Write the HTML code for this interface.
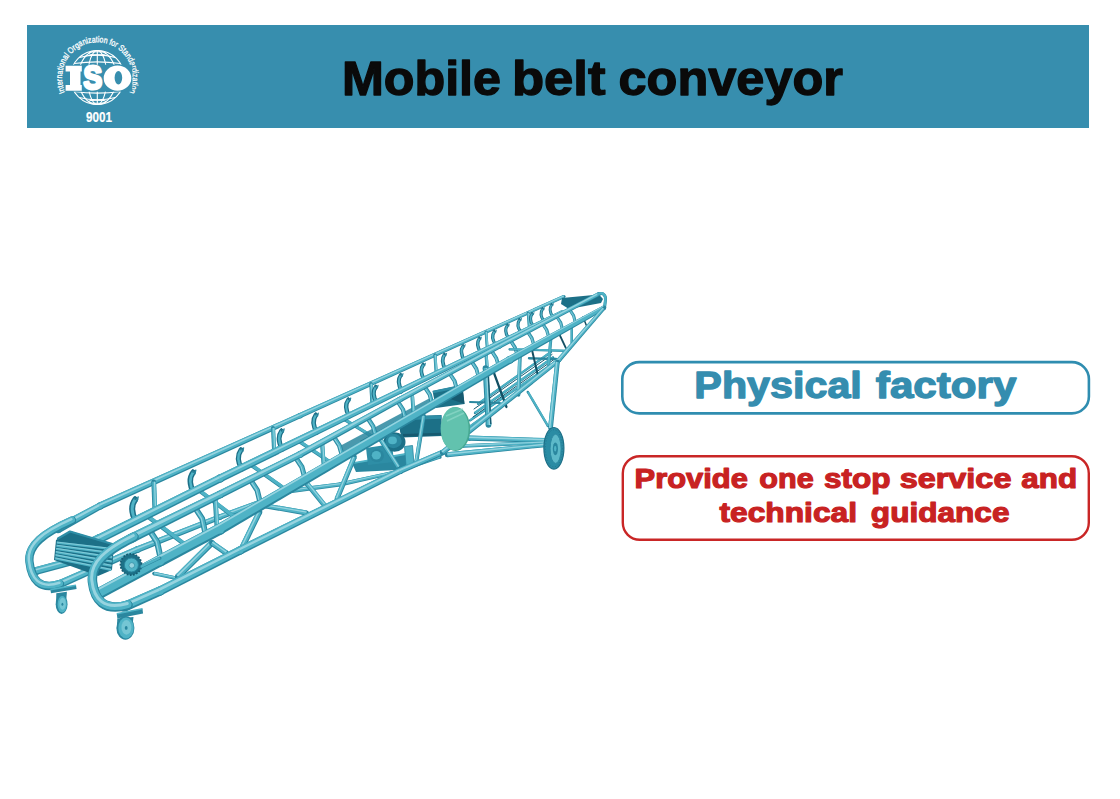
<!DOCTYPE html>
<html>
<head>
<meta charset="utf-8">
<title>Mobile belt conveyor</title>
<style>
html,body{margin:0;padding:0;background:#fff;}
body{width:1120px;height:799px;position:relative;overflow:hidden;font-family:"Liberation Sans",sans-serif;}
#hdr{position:absolute;left:27px;top:25px;width:1062px;height:103px;background:#378EAE;}
#stage{position:absolute;left:0;top:0;width:1120px;height:799px;}
text{font-family:"Liberation Sans",sans-serif;}
</style>
</head>
<body>
<div id="hdr"></div>
<svg id="stage" width="1120" height="799" viewBox="0 0 1120 799">
<!-- TITLE -->
<text x="341.92" y="94.6" font-size="48.2" font-weight="bold" fill="#0a0a0a" stroke="#0a0a0a" stroke-width="1.3" stroke-linejoin="round" textLength="159.11" lengthAdjust="spacingAndGlyphs">Mobile</text>
<text x="511.9" y="94.6" font-size="48.2" font-weight="bold" fill="#0a0a0a" stroke="#0a0a0a" stroke-width="1.3" stroke-linejoin="round" textLength="93.59" lengthAdjust="spacingAndGlyphs">belt</text>
<text x="618.49" y="94.6" font-size="48.2" font-weight="bold" fill="#0a0a0a" stroke="#0a0a0a" stroke-width="1.3" stroke-linejoin="round" textLength="224.51" lengthAdjust="spacingAndGlyphs">conveyor</text>

<!-- BOXES -->
<rect x="622.3" y="362.1" width="466.6" height="51.3" rx="17" ry="17" fill="#fff" stroke="#2F8DB0" stroke-width="2.6"/>
<text x="694.38" y="397.8" font-size="37.7" font-weight="bold" fill="#358DAF" stroke="#358DAF" stroke-width="1.35" stroke-linejoin="round" textLength="167.42" lengthAdjust="spacingAndGlyphs">Physical</text>
<text x="875.86" y="397.8" font-size="37.7" font-weight="bold" fill="#358DAF" stroke="#358DAF" stroke-width="1.35" stroke-linejoin="round" textLength="140.60" lengthAdjust="spacingAndGlyphs">factory</text>

<rect x="622.8" y="456.2" width="466" height="83.6" rx="17" ry="17" fill="#fff" stroke="#C92626" stroke-width="2.4"/>
<text x="634.54" y="487.9" font-size="27.6" font-weight="bold" fill="#C82222" stroke="#C82222" stroke-width="1.15" stroke-linejoin="round" textLength="113.32" lengthAdjust="spacingAndGlyphs">Provide</text>
<text x="759.33" y="487.9" font-size="27.6" font-weight="bold" fill="#C82222" stroke="#C82222" stroke-width="1.15" stroke-linejoin="round" textLength="54.44" lengthAdjust="spacingAndGlyphs">one</text>
<text x="824.05" y="487.9" font-size="27.6" font-weight="bold" fill="#C82222" stroke="#C82222" stroke-width="1.15" stroke-linejoin="round" textLength="66.57" lengthAdjust="spacingAndGlyphs">stop</text>
<text x="899.66" y="487.9" font-size="27.6" font-weight="bold" fill="#C82222" stroke="#C82222" stroke-width="1.15" stroke-linejoin="round" textLength="111.77" lengthAdjust="spacingAndGlyphs">service</text>
<text x="1021.29" y="487.9" font-size="27.6" font-weight="bold" fill="#C82222" stroke="#C82222" stroke-width="1.15" stroke-linejoin="round" textLength="55.86" lengthAdjust="spacingAndGlyphs">and</text>
<text x="719.52" y="521.7" font-size="27.6" font-weight="bold" fill="#C82222" stroke="#C82222" stroke-width="1.15" stroke-linejoin="round" textLength="137.49" lengthAdjust="spacingAndGlyphs">technical</text>
<text x="870.88" y="521.7" font-size="27.6" font-weight="bold" fill="#C82222" stroke="#C82222" stroke-width="1.15" stroke-linejoin="round" textLength="138.62" lengthAdjust="spacingAndGlyphs">guidance</text>

<!-- LOGO -->
<g id="logo">
<g fill="none" stroke="#fff" stroke-width="1.1"><circle cx="97.3" cy="77.5" r="27"/><ellipse cx="97.3" cy="77.5" rx="9.5" ry="27"/><ellipse cx="97.3" cy="77.5" rx="19" ry="27"/><line x1="97.3" y1="50.5" x2="97.3" y2="104.5"/><path d="M79.2,57.5 Q97.3,52.7 115.4,57.5"/><path d="M74.2,63.5 Q97.3,60.3 120.4,63.5"/><path d="M74.2,91.5 Q97.3,94.7 120.4,91.5"/><path d="M79.2,97.5 Q97.3,102.3 115.4,97.5"/><ellipse cx="97.3" cy="53.3" rx="8.5" ry="1.6"/><ellipse cx="97.3" cy="101.7" rx="8.5" ry="1.6"/></g>
<path id="arc" d="M65.27,92.10 A35.2,35.2 0 1 1 129.46,91.82" fill="none"/>
<text font-size="8.7" fill="#fff" stroke="#fff" stroke-width="0.3" textLength="140.4" lengthAdjust="spacingAndGlyphs"><textPath href="#arc" textLength="140.4" lengthAdjust="spacingAndGlyphs">International Organization for Standardization</textPath></text>
<rect x="64.6" y="64.7" width="67.7" height="27" fill="#378EAE"/>
<path d="M65.6,65.7H81.8V71.4H80.5V85H81.8V90.7H65.6V85H70V71.4H65.6Z" fill="#fff"/><text x="83.4" y="89" font-family="Liberation Serif" font-weight="bold" font-size="33.2" fill="#fff" stroke="#fff" stroke-width="3.1" stroke-linejoin="round" textLength="18.6" lengthAdjust="spacingAndGlyphs">S</text><path fill-rule="evenodd" fill="#fff" d="M103.7,78.2a13.8,12.6 0 1 0 27.6,0a13.8,12.6 0 1 0 -27.6,0Z M114.6,77.8a3.8,6.7 0 1 0 7.6,0a3.8,6.7 0 1 0 -7.6,0Z"/>
<text x="86" y="122" font-size="14.4" font-weight="bold" fill="#fff" stroke="#fff" stroke-width="0.2" textLength="26" lengthAdjust="spacingAndGlyphs">9001</text>
</g>

<!-- CONVEYOR -->
<defs><filter id="soft" x="-2%" y="-2%" width="104%" height="104%"><feGaussianBlur stdDeviation="0.45"/></filter></defs>
<g id="conv" stroke-linejoin="round" filter="url(#soft)">
<path d="M34.97,567.14 L90.97,552.14 L93.03,559.86 L37.03,574.86Z" fill="#2A879F"/>
<circle cx="36.00" cy="571.00" r="4.00" fill="#2A879F"/>
<circle cx="92.00" cy="556.00" r="4.00" fill="#2A879F"/>
<path d="M34.97,567.14 L90.97,552.14 L92.66,558.47 L36.66,573.47Z" fill="#4FB3C6"/>
<path d="M35.44,568.91 L91.44,553.91 L91.86,555.46 L35.86,570.46Z" fill="#97D4E0"/>
<path d="M56.29,581.16 L136.20,546.58 L138.80,552.42 L59.71,588.84Z" fill="#2A879F"/>
<circle cx="58.00" cy="585.00" r="4.20" fill="#2A879F"/>
<circle cx="137.50" cy="549.50" r="3.20" fill="#2A879F"/>
<path d="M136.33,546.52 L219.01,514.49 L220.99,519.51 L138.67,552.48Z" fill="#2A879F"/>
<circle cx="137.50" cy="549.50" r="3.20" fill="#2A879F"/>
<circle cx="220.00" cy="517.00" r="2.70" fill="#2A879F"/>
<path d="M219.06,514.47 L289.20,488.84 L290.80,493.16 L220.94,519.53Z" fill="#2A879F"/>
<circle cx="220.00" cy="517.00" r="2.70" fill="#2A879F"/>
<circle cx="290.00" cy="491.00" r="2.30" fill="#2A879F"/>
<path d="M289.70,488.72 L339.74,482.52 L340.26,486.48 L290.30,493.28Z" fill="#2A879F"/>
<circle cx="290.00" cy="491.00" r="2.30" fill="#2A879F"/>
<circle cx="340.00" cy="484.50" r="2.00" fill="#2A879F"/>
<path d="M339.57,482.55 L391.61,471.24 L392.39,474.76 L340.43,486.45Z" fill="#2A879F"/>
<circle cx="340.00" cy="484.50" r="2.00" fill="#2A879F"/>
<circle cx="392.00" cy="473.00" r="1.80" fill="#2A879F"/>
<path d="M391.43,471.29 L439.46,455.39 L440.54,458.61 L392.57,474.71Z" fill="#2A879F"/>
<circle cx="392.00" cy="473.00" r="1.80" fill="#2A879F"/>
<circle cx="440.00" cy="457.00" r="1.70" fill="#2A879F"/>
<path d="M56.29,581.16 L136.20,546.58 L138.34,551.37 L59.10,587.45Z" fill="#4FB3C6"/>
<path d="M136.33,546.52 L219.01,514.49 L220.63,518.61 L138.25,551.41Z" fill="#4FB3C6"/>
<circle cx="137.50" cy="549.50" r="2.56" fill="#4FB3C6"/>
<path d="M219.06,514.47 L289.20,488.84 L290.51,492.38 L220.60,518.62Z" fill="#4FB3C6"/>
<circle cx="220.00" cy="517.00" r="2.16" fill="#4FB3C6"/>
<path d="M289.70,488.72 L339.74,482.52 L340.17,485.77 L290.19,492.46Z" fill="#4FB3C6"/>
<circle cx="290.00" cy="491.00" r="1.84" fill="#4FB3C6"/>
<path d="M339.57,482.55 L391.61,471.24 L392.25,474.12 L340.28,485.75Z" fill="#4FB3C6"/>
<circle cx="340.00" cy="484.50" r="1.60" fill="#4FB3C6"/>
<path d="M391.43,471.29 L439.46,455.39 L440.34,458.03 L392.36,474.09Z" fill="#4FB3C6"/>
<circle cx="392.00" cy="473.00" r="1.44" fill="#4FB3C6"/>
<path d="M56.99,582.74 L136.73,547.78 L137.38,549.24 L57.85,584.65Z" fill="#97D4E0"/>
<path d="M136.81,547.74 L219.42,515.52 L219.91,516.77 L137.39,549.23Z" fill="#97D4E0"/>
<path d="M219.45,515.51 L289.53,489.73 L289.93,490.81 L219.92,516.77Z" fill="#97D4E0"/>
<path d="M289.83,489.65 L339.85,483.33 L339.98,484.32 L289.97,490.79Z" fill="#97D4E0"/>
<path d="M339.75,483.35 L391.77,471.96 L391.97,472.84 L339.96,484.32Z" fill="#97D4E0"/>
<path d="M391.66,471.99 L439.68,456.05 L439.95,456.85 L391.95,472.85Z" fill="#97D4E0"/>
<path d="M55.98,525.32 L98.32,502.93 L101.68,509.07 L60.02,532.68Z" fill="#2A879F"/>
<circle cx="58.00" cy="529.00" r="4.20" fill="#2A879F"/>
<circle cx="100.00" cy="506.00" r="3.50" fill="#2A879F"/>
<path d="M98.56,502.81 L298.93,413.33 L301.07,418.07 L101.44,509.19Z" fill="#2A879F"/>
<circle cx="100.00" cy="506.00" r="3.50" fill="#2A879F"/>
<circle cx="300.00" cy="415.70" r="2.60" fill="#2A879F"/>
<path d="M298.93,413.33 L563.34,295.04 L564.66,297.96 L301.07,418.07Z" fill="#2A879F"/>
<circle cx="300.00" cy="415.70" r="2.60" fill="#2A879F"/>
<circle cx="564.00" cy="296.50" r="1.60" fill="#2A879F"/>
<path d="M55.98,525.32 L98.32,502.93 L101.08,507.96 L59.29,531.36Z" fill="#4FB3C6"/>
<path d="M98.56,502.81 L298.93,413.33 L300.68,417.22 L100.92,508.04Z" fill="#4FB3C6"/>
<circle cx="100.00" cy="506.00" r="2.80" fill="#4FB3C6"/>
<path d="M298.93,413.33 L563.34,295.04 L564.42,297.43 L300.68,417.22Z" fill="#4FB3C6"/>
<circle cx="300.00" cy="415.70" r="2.08" fill="#4FB3C6"/>
<path d="M56.71,526.64 L98.92,504.04 L99.93,505.88 L57.92,528.85Z" fill="#97D4E0"/>
<path d="M99.08,503.96 L299.32,414.18 L299.96,415.61 L99.94,505.87Z" fill="#97D4E0"/>
<path d="M299.32,414.18 L563.58,295.57 L563.97,296.44 L299.96,415.61Z" fill="#97D4E0"/>
<path d="M156.05,481.67 L157.25,512.08 L152.55,512.26 L151.35,481.86Z" fill="#2A879F"/>
<circle cx="153.70" cy="481.77" r="2.35" fill="#2A879F"/>
<circle cx="154.90" cy="512.17" r="2.35" fill="#2A879F"/>
<path d="M156.05,481.67 L157.25,512.08 L153.40,512.23 L152.20,481.82Z" fill="#4FB3C6"/>
<path d="M155.09,481.71 L156.29,512.12 L155.11,512.16 L153.91,481.76Z" fill="#97D4E0"/>
<path d="M275.01,427.83 L276.21,453.58 L272.19,453.77 L270.99,428.02Z" fill="#2A879F"/>
<circle cx="273.00" cy="427.93" r="2.02" fill="#2A879F"/>
<circle cx="274.20" cy="453.68" r="2.02" fill="#2A879F"/>
<path d="M275.01,427.83 L276.21,453.58 L272.91,453.74 L271.71,427.99Z" fill="#4FB3C6"/>
<path d="M274.19,427.87 L275.39,453.62 L274.38,453.67 L273.18,427.92Z" fill="#97D4E0"/>
<path d="M372.74,383.60 L373.94,405.53 L370.46,405.72 L369.26,383.79Z" fill="#2A879F"/>
<circle cx="371.00" cy="383.70" r="1.74" fill="#2A879F"/>
<circle cx="372.20" cy="405.63" r="1.74" fill="#2A879F"/>
<path d="M372.74,383.60 L373.94,405.53 L371.09,405.69 L369.89,383.76Z" fill="#4FB3C6"/>
<path d="M372.03,383.64 L373.23,405.57 L372.36,405.62 L371.16,383.69Z" fill="#97D4E0"/>
<path d="M436.56,354.72 L437.76,374.15 L434.64,374.35 L433.44,354.91Z" fill="#2A879F"/>
<circle cx="435.00" cy="354.81" r="1.56" fill="#2A879F"/>
<circle cx="436.20" cy="374.25" r="1.56" fill="#2A879F"/>
<path d="M436.56,354.72 L437.76,374.15 L435.20,374.31 L434.00,354.88Z" fill="#4FB3C6"/>
<path d="M435.92,354.76 L437.12,374.19 L436.34,374.24 L435.14,354.81Z" fill="#97D4E0"/>
<path d="M487.42,331.70 L488.62,349.15 L485.78,349.34 L484.58,331.90Z" fill="#2A879F"/>
<circle cx="486.00" cy="331.80" r="1.42" fill="#2A879F"/>
<circle cx="487.20" cy="349.24" r="1.42" fill="#2A879F"/>
<path d="M487.42,331.70 L488.62,349.15 L486.29,349.31 L485.09,331.86Z" fill="#4FB3C6"/>
<path d="M486.84,331.74 L488.04,349.19 L487.33,349.24 L486.13,331.79Z" fill="#97D4E0"/>
<path d="M529.30,312.75 L530.50,328.55 L527.90,328.75 L526.70,312.94Z" fill="#2A879F"/>
<circle cx="528.00" cy="312.84" r="1.30" fill="#2A879F"/>
<circle cx="529.20" cy="328.65" r="1.30" fill="#2A879F"/>
<path d="M529.30,312.75 L530.50,328.55 L528.37,328.71 L527.17,312.91Z" fill="#4FB3C6"/>
<path d="M528.77,312.79 L529.97,328.59 L529.32,328.64 L528.12,312.83Z" fill="#97D4E0"/>
<path d="M135.8,521.1 C131.7,513.5 130.7,505.5 135.2,499.4" fill="none" stroke="#1D6F87" stroke-width="5.9" stroke-linecap="round"/>
<path d="M135.8,521.1 C131.7,513.5 130.7,505.5 135.2,499.4" fill="none" stroke="#4FB3C6" stroke-width="2.9" stroke-linecap="round"/>
<path d="M135.2,499.4 L135.0,496.7" fill="none" stroke="#1D6F87" stroke-width="1.5" stroke-linecap="round"/>
<path d="M137.1,500.9 L138.1,497.1" fill="none" stroke="#2A879F" stroke-width="1.5" stroke-linecap="round"/>
<path d="M193.8,492.7 C189.8,485.5 189.0,478.0 193.1,472.3" fill="none" stroke="#1D6F87" stroke-width="5.5" stroke-linecap="round"/>
<path d="M193.8,492.7 C189.8,485.5 189.0,478.0 193.1,472.3" fill="none" stroke="#4FB3C6" stroke-width="2.7" stroke-linecap="round"/>
<path d="M193.1,472.3 L192.9,469.8" fill="none" stroke="#1D6F87" stroke-width="1.4" stroke-linecap="round"/>
<path d="M194.9,473.8 L195.8,470.2" fill="none" stroke="#2A879F" stroke-width="1.4" stroke-linecap="round"/>
<path d="M241.8,469.1 C238.0,462.4 237.1,455.3 241.0,449.9" fill="none" stroke="#1D6F87" stroke-width="5.1" stroke-linecap="round"/>
<path d="M241.8,469.1 C238.0,462.4 237.1,455.3 241.0,449.9" fill="none" stroke="#4FB3C6" stroke-width="2.5" stroke-linecap="round"/>
<path d="M241.0,449.9 L240.8,447.6" fill="none" stroke="#1D6F87" stroke-width="1.3" stroke-linecap="round"/>
<path d="M242.8,451.3 L243.6,447.9" fill="none" stroke="#2A879F" stroke-width="1.3" stroke-linecap="round"/>
<path d="M282.4,449.2 C278.7,442.8 277.9,436.1 281.6,431.0" fill="none" stroke="#1D6F87" stroke-width="4.8" stroke-linecap="round"/>
<path d="M282.4,449.2 C278.7,442.8 277.9,436.1 281.6,431.0" fill="none" stroke="#4FB3C6" stroke-width="2.4" stroke-linecap="round"/>
<path d="M281.6,431.0 L281.4,428.7" fill="none" stroke="#1D6F87" stroke-width="1.3" stroke-linecap="round"/>
<path d="M283.3,432.2 L284.1,429.0" fill="none" stroke="#2A879F" stroke-width="1.3" stroke-linecap="round"/>
<path d="M316.8,432.4 C313.2,426.2 312.4,419.8 315.9,414.9" fill="none" stroke="#1D6F87" stroke-width="4.6" stroke-linecap="round"/>
<path d="M316.8,432.4 C313.2,426.2 312.4,419.8 315.9,414.9" fill="none" stroke="#4FB3C6" stroke-width="2.2" stroke-linecap="round"/>
<path d="M315.9,414.9 L315.8,412.8" fill="none" stroke="#1D6F87" stroke-width="1.2" stroke-linecap="round"/>
<path d="M317.6,416.1 L318.3,413.1" fill="none" stroke="#2A879F" stroke-width="1.2" stroke-linecap="round"/>
<path d="M349.3,416.4 C345.8,410.6 345.0,404.4 348.4,399.7" fill="none" stroke="#1D6F87" stroke-width="4.4" stroke-linecap="round"/>
<path d="M349.3,416.4 C345.8,410.6 345.0,404.4 348.4,399.7" fill="none" stroke="#4FB3C6" stroke-width="2.1" stroke-linecap="round"/>
<path d="M348.4,399.7 L348.2,397.7" fill="none" stroke="#1D6F87" stroke-width="1.2" stroke-linecap="round"/>
<path d="M350.0,400.9 L350.7,398.0" fill="none" stroke="#2A879F" stroke-width="1.2" stroke-linecap="round"/>
<path d="M376.8,402.9 C373.3,397.3 372.6,391.4 375.8,386.9" fill="none" stroke="#1D6F87" stroke-width="4.2" stroke-linecap="round"/>
<path d="M376.8,402.9 C373.3,397.3 372.6,391.4 375.8,386.9" fill="none" stroke="#4FB3C6" stroke-width="2.0" stroke-linecap="round"/>
<path d="M375.8,386.9 L375.7,385.0" fill="none" stroke="#1D6F87" stroke-width="1.1" stroke-linecap="round"/>
<path d="M377.4,388.0 L378.1,385.2" fill="none" stroke="#2A879F" stroke-width="1.1" stroke-linecap="round"/>
<path d="M401.8,390.7 C398.4,385.3 397.7,379.6 400.8,375.2" fill="none" stroke="#1D6F87" stroke-width="4.0" stroke-linecap="round"/>
<path d="M401.8,390.7 C398.4,385.3 397.7,379.6 400.8,375.2" fill="none" stroke="#4FB3C6" stroke-width="1.9" stroke-linecap="round"/>
<path d="M400.8,375.2 L400.7,373.4" fill="none" stroke="#1D6F87" stroke-width="1.1" stroke-linecap="round"/>
<path d="M402.3,376.3 L403.0,373.6" fill="none" stroke="#2A879F" stroke-width="1.1" stroke-linecap="round"/>
<path d="M424.3,379.6 C421.0,374.4 420.3,368.9 423.3,364.7" fill="none" stroke="#1D6F87" stroke-width="3.8" stroke-linecap="round"/>
<path d="M424.3,379.6 C421.0,374.4 420.3,368.9 423.3,364.7" fill="none" stroke="#4FB3C6" stroke-width="1.8" stroke-linecap="round"/>
<path d="M423.3,364.7 L423.1,362.9" fill="none" stroke="#1D6F87" stroke-width="1.0" stroke-linecap="round"/>
<path d="M424.8,365.8 L425.4,363.2" fill="none" stroke="#2A879F" stroke-width="1.0" stroke-linecap="round"/>
<path d="M445.6,369.2 C442.3,364.2 441.7,358.8 444.5,354.8" fill="none" stroke="#1D6F87" stroke-width="3.7" stroke-linecap="round"/>
<path d="M445.6,369.2 C442.3,364.2 441.7,358.8 444.5,354.8" fill="none" stroke="#4FB3C6" stroke-width="1.8" stroke-linecap="round"/>
<path d="M444.5,354.8 L444.4,353.1" fill="none" stroke="#1D6F87" stroke-width="1.0" stroke-linecap="round"/>
<path d="M445.9,355.8 L446.6,353.3" fill="none" stroke="#2A879F" stroke-width="1.0" stroke-linecap="round"/>
<path d="M464.3,360.0 C461.1,355.1 460.5,350.0 463.2,346.1" fill="none" stroke="#1D6F87" stroke-width="3.5" stroke-linecap="round"/>
<path d="M464.3,360.0 C461.1,355.1 460.5,350.0 463.2,346.1" fill="none" stroke="#4FB3C6" stroke-width="1.7" stroke-linecap="round"/>
<path d="M463.2,346.1 L463.1,344.4" fill="none" stroke="#1D6F87" stroke-width="1.0" stroke-linecap="round"/>
<path d="M464.6,347.0 L465.2,344.6" fill="none" stroke="#2A879F" stroke-width="1.0" stroke-linecap="round"/>
<path d="M480.6,352.1 C477.4,347.3 476.8,342.3 479.4,338.5" fill="none" stroke="#1D6F87" stroke-width="3.4" stroke-linecap="round"/>
<path d="M480.6,352.1 C477.4,347.3 476.8,342.3 479.4,338.5" fill="none" stroke="#4FB3C6" stroke-width="1.6" stroke-linecap="round"/>
<path d="M479.4,338.5 L479.3,336.9" fill="none" stroke="#1D6F87" stroke-width="0.9" stroke-linecap="round"/>
<path d="M480.8,339.4 L481.4,337.1" fill="none" stroke="#2A879F" stroke-width="0.9" stroke-linecap="round"/>
<path d="M495.6,344.7 C492.4,340.1 491.8,335.2 494.4,331.5" fill="none" stroke="#1D6F87" stroke-width="3.3" stroke-linecap="round"/>
<path d="M495.6,344.7 C492.4,340.1 491.8,335.2 494.4,331.5" fill="none" stroke="#4FB3C6" stroke-width="1.6" stroke-linecap="round"/>
<path d="M494.4,331.5 L494.3,329.9" fill="none" stroke="#1D6F87" stroke-width="0.9" stroke-linecap="round"/>
<path d="M495.8,332.4 L496.4,330.1" fill="none" stroke="#2A879F" stroke-width="0.9" stroke-linecap="round"/>
<path d="M508.6,338.3 C505.4,333.8 504.9,329.0 507.4,325.4" fill="none" stroke="#1D6F87" stroke-width="3.2" stroke-linecap="round"/>
<path d="M508.6,338.3 C505.4,333.8 504.9,329.0 507.4,325.4" fill="none" stroke="#4FB3C6" stroke-width="1.5" stroke-linecap="round"/>
<path d="M507.4,325.4 L507.3,323.9" fill="none" stroke="#1D6F87" stroke-width="0.9" stroke-linecap="round"/>
<path d="M508.8,326.3 L509.3,324.1" fill="none" stroke="#2A879F" stroke-width="0.9" stroke-linecap="round"/>
<path d="M520.8,332.3 C517.7,327.9 517.2,323.2 519.6,319.7" fill="none" stroke="#1D6F87" stroke-width="3.1" stroke-linecap="round"/>
<path d="M520.8,332.3 C517.7,327.9 517.2,323.2 519.6,319.7" fill="none" stroke="#4FB3C6" stroke-width="1.5" stroke-linecap="round"/>
<path d="M519.6,319.7 L519.5,318.2" fill="none" stroke="#1D6F87" stroke-width="0.9" stroke-linecap="round"/>
<path d="M521.0,320.5 L521.5,318.4" fill="none" stroke="#2A879F" stroke-width="0.9" stroke-linecap="round"/>
<path d="M533.3,326.2 C530.3,321.9 529.7,317.3 532.1,313.8" fill="none" stroke="#1D6F87" stroke-width="3.1" stroke-linecap="round"/>
<path d="M533.3,326.2 C530.3,321.9 529.7,317.3 532.1,313.8" fill="none" stroke="#4FB3C6" stroke-width="1.4" stroke-linecap="round"/>
<path d="M532.1,313.8 L532.0,312.4" fill="none" stroke="#1D6F87" stroke-width="0.9" stroke-linecap="round"/>
<path d="M533.4,314.7 L534.0,312.6" fill="none" stroke="#2A879F" stroke-width="0.9" stroke-linecap="round"/>
<path d="M543.8,321.1 C540.8,316.8 540.3,312.3 542.6,308.9" fill="none" stroke="#1D6F87" stroke-width="3.0" stroke-linecap="round"/>
<path d="M543.8,321.1 C540.8,316.8 540.3,312.3 542.6,308.9" fill="none" stroke="#4FB3C6" stroke-width="1.4" stroke-linecap="round"/>
<path d="M542.6,308.9 L542.5,307.5" fill="none" stroke="#1D6F87" stroke-width="0.9" stroke-linecap="round"/>
<path d="M543.9,309.8 L544.4,307.7" fill="none" stroke="#2A879F" stroke-width="0.9" stroke-linecap="round"/>
<path d="M552.8,316.6 C549.8,312.5 549.3,308.1 551.6,304.7" fill="none" stroke="#1D6F87" stroke-width="2.9" stroke-linecap="round"/>
<path d="M552.8,316.6 C549.8,312.5 549.3,308.1 551.6,304.7" fill="none" stroke="#4FB3C6" stroke-width="1.4" stroke-linecap="round"/>
<path d="M551.6,304.7 L551.5,303.4" fill="none" stroke="#1D6F87" stroke-width="0.9" stroke-linecap="round"/>
<path d="M552.9,305.5 L553.4,303.6" fill="none" stroke="#2A879F" stroke-width="0.9" stroke-linecap="round"/>
<path d="M149.30,515.12 L187.15,543.47 L184.54,546.95 L146.70,518.60Z" fill="#2A879F"/>
<circle cx="148.00" cy="516.86" r="2.18" fill="#2A879F"/>
<circle cx="185.85" cy="545.21" r="2.18" fill="#2A879F"/>
<path d="M149.30,515.12 L187.15,543.47 L185.01,546.32 L147.16,517.97Z" fill="#4FB3C6"/>
<path d="M201.23,489.62 L236.75,516.54 L234.29,519.80 L198.77,492.87Z" fill="#2A879F"/>
<circle cx="200.00" cy="491.25" r="2.04" fill="#2A879F"/>
<circle cx="235.52" cy="518.17" r="2.04" fill="#2A879F"/>
<path d="M201.23,489.62 L236.75,516.54 L234.73,519.21 L199.21,492.29Z" fill="#4FB3C6"/>
<path d="M253.11,464.08 L286.30,487.75 L284.08,490.86 L250.89,467.19Z" fill="#2A879F"/>
<circle cx="252.00" cy="465.63" r="1.91" fill="#2A879F"/>
<circle cx="285.19" cy="489.31" r="1.91" fill="#2A879F"/>
<path d="M253.11,464.08 L286.30,487.75 L284.48,490.30 L251.29,466.63Z" fill="#4FB3C6"/>
<path d="M300.99,440.51 L332.03,461.18 L330.05,464.15 L299.01,443.48Z" fill="#2A879F"/>
<circle cx="300.00" cy="441.99" r="1.78" fill="#2A879F"/>
<circle cx="331.04" cy="462.66" r="1.78" fill="#2A879F"/>
<path d="M300.99,440.51 L332.03,461.18 L330.41,463.61 L299.37,442.94Z" fill="#4FB3C6"/>
<path d="M345.87,418.41 L374.90,436.26 L373.15,439.11 L344.13,421.25Z" fill="#2A879F"/>
<circle cx="345.00" cy="419.83" r="1.67" fill="#2A879F"/>
<circle cx="374.02" cy="437.68" r="1.67" fill="#2A879F"/>
<path d="M345.87,418.41 L374.90,436.26 L373.46,438.59 L344.44,420.74Z" fill="#4FB3C6"/>
<path d="M71.92,546.67 L98.01,534.35 L101.99,542.65 L76.08,555.33Z" fill="#2A879F"/>
<circle cx="74.00" cy="551.00" r="4.80" fill="#2A879F"/>
<circle cx="100.00" cy="538.50" r="4.60" fill="#2A879F"/>
<path d="M97.94,534.39 L218.21,474.92 L221.79,482.08 L102.06,542.61Z" fill="#2A879F"/>
<circle cx="100.00" cy="538.50" r="4.60" fill="#2A879F"/>
<circle cx="220.00" cy="478.50" r="4.00" fill="#2A879F"/>
<path d="M218.25,474.90 L398.73,388.39 L401.27,393.61 L221.75,482.10Z" fill="#2A879F"/>
<circle cx="220.00" cy="478.50" r="4.00" fill="#2A879F"/>
<circle cx="400.00" cy="391.00" r="2.90" fill="#2A879F"/>
<path d="M398.73,388.39 L561.21,310.38 L562.79,313.62 L401.27,393.61Z" fill="#2A879F"/>
<circle cx="400.00" cy="391.00" r="2.90" fill="#2A879F"/>
<circle cx="562.00" cy="312.00" r="1.80" fill="#2A879F"/>
<path d="M71.92,546.67 L98.01,534.35 L101.28,541.15 L75.33,553.77Z" fill="#4FB3C6"/>
<path d="M97.94,534.39 L218.21,474.92 L221.14,480.79 L101.32,541.13Z" fill="#4FB3C6"/>
<circle cx="100.00" cy="538.50" r="3.68" fill="#4FB3C6"/>
<path d="M218.25,474.90 L398.73,388.39 L400.81,392.67 L221.12,480.80Z" fill="#4FB3C6"/>
<circle cx="220.00" cy="478.50" r="3.20" fill="#4FB3C6"/>
<path d="M398.73,388.39 L561.21,310.38 L562.50,313.04 L400.81,392.67Z" fill="#4FB3C6"/>
<circle cx="400.00" cy="391.00" r="2.32" fill="#4FB3C6"/>
<path d="M72.75,548.40 L98.80,536.01 L99.84,538.17 L73.83,550.65Z" fill="#97D4E0"/>
<path d="M98.77,536.03 L218.93,476.35 L219.86,478.21 L99.84,538.17Z" fill="#97D4E0"/>
<path d="M218.95,476.34 L399.24,389.44 L399.90,390.79 L219.86,478.21Z" fill="#97D4E0"/>
<path d="M399.24,389.44 L561.53,311.03 L561.94,311.87 L399.90,390.79Z" fill="#97D4E0"/>
<path d="M562,298 L599,294.5 L603,299 L601,303 L569,309 L561,304 Z" fill="#1D6F87"/>
<path d="M432.5,391 L462,385 L464.5,404 L436,408 Z" fill="#1D6F87"/>
<path d="M442,396 L463,390 L464.5,404 Z" fill="#155A70"/>
<path d="M433,392 L462,386" stroke="#2F8EA6" stroke-width="2.4" fill="none"/>
<path d="M338,447 L430,398 L434,405 L342,455 Z" fill="#2A879F" opacity="0.85"/>
<path d="M360,441 L430,403 L432,407 L362,445 Z" fill="#1D6F87" opacity="0.8"/>
<path d="M402,416.5 Q397,427 402,437.5 L442,436 L441.5,415 Z" fill="#1D6F87"/>
<path d="M402.5,418.5 L441.5,417" stroke="#2F8EA6" stroke-width="3.4" fill="none"/>
<path d="M403,435.4 L442,434" stroke="#155A70" stroke-width="2.6" fill="none"/>
<path d="M352,463 L412,452.5 L414,466 L398,470 L356,472 Z" fill="#2A879F"/>
<path d="M353,463.2 L411.5,453" stroke="#4FB3C6" stroke-width="1.8" fill="none"/>
<path d="M366,448 L392,444 L394,462 L368,465 Z" fill="#2F8EA6"/>
<ellipse cx="394.5" cy="442" rx="11" ry="9.8" fill="#1D6F87"/>
<ellipse cx="393.5" cy="441" rx="8.2" ry="7.2" fill="#2A879F"/>
<ellipse cx="392.5" cy="440.4" rx="4.4" ry="3.8" fill="#4FB3C6"/>
<path d="M404.5,446.5 L412.5,445.5 L414,464 L406,465.5 Z" fill="#4FB3C6" stroke="#2A879F" stroke-width="0.8"/>
<ellipse cx="377" cy="455.7" rx="7" ry="6.4" fill="#2A879F"/>
<ellipse cx="376.4" cy="455.3" rx="4.6" ry="4.2" fill="#4FB3C6"/>
<path d="M150.0,531.0 L157.1,541.9 L160.9,559.3" fill="none" stroke="#2A879F" stroke-width="6.1" stroke-linecap="round"/>
<path d="M150.0,531.0 L157.1,541.9 L160.9,559.3" fill="none" stroke="#4FB3C6" stroke-width="3.9" stroke-linecap="round"/>
<path d="M150.0,531.0 L157.1,541.9 L160.9,559.3" fill="none" stroke="#97D4E0" stroke-width="1.2" transform="translate(-0.85,-0.28)"/>
<path d="M195.5,508.4 L202.2,518.7 L205.8,535.5" fill="none" stroke="#2A879F" stroke-width="5.8" stroke-linecap="round"/>
<path d="M195.5,508.4 L202.2,518.7 L205.8,535.5" fill="none" stroke="#4FB3C6" stroke-width="3.7" stroke-linecap="round"/>
<path d="M195.5,508.4 L202.2,518.7 L205.8,535.5" fill="none" stroke="#97D4E0" stroke-width="1.2" transform="translate(-0.80,-0.27)"/>
<path d="M251.0,480.7 L257.2,490.2 L260.6,504.3" fill="none" stroke="#2A879F" stroke-width="5.4" stroke-linecap="round"/>
<path d="M251.0,480.7 L257.2,490.2 L260.6,504.3" fill="none" stroke="#4FB3C6" stroke-width="3.4" stroke-linecap="round"/>
<path d="M251.0,480.7 L257.2,490.2 L260.6,504.3" fill="none" stroke="#97D4E0" stroke-width="1.1" transform="translate(-0.75,-0.25)"/>
<path d="M296.0,458.1 L301.9,467.0 L305.0,478.4" fill="none" stroke="#2A879F" stroke-width="5.1" stroke-linecap="round"/>
<path d="M296.0,458.1 L301.9,467.0 L305.0,478.4" fill="none" stroke="#4FB3C6" stroke-width="3.2" stroke-linecap="round"/>
<path d="M296.0,458.1 L301.9,467.0 L305.0,478.4" fill="none" stroke="#97D4E0" stroke-width="1.0" transform="translate(-0.70,-0.23)"/>
<path d="M334.0,437.3 L339.5,445.8 L342.5,456.5" fill="none" stroke="#2A879F" stroke-width="4.8" stroke-linecap="round"/>
<path d="M334.0,437.3 L339.5,445.8 L342.5,456.5" fill="none" stroke="#4FB3C6" stroke-width="3.0" stroke-linecap="round"/>
<path d="M334.0,437.3 L339.5,445.8 L342.5,456.5" fill="none" stroke="#97D4E0" stroke-width="1.0" transform="translate(-0.66,-0.22)"/>
<path d="M368.0,418.5 L373.2,426.5 L376.0,437.0" fill="none" stroke="#2A879F" stroke-width="4.6" stroke-linecap="round"/>
<path d="M368.0,418.5 L373.2,426.5 L376.0,437.0" fill="none" stroke="#4FB3C6" stroke-width="2.8" stroke-linecap="round"/>
<path d="M368.0,418.5 L373.2,426.5 L376.0,437.0" fill="none" stroke="#97D4E0" stroke-width="0.9" transform="translate(-0.63,-0.21)"/>
<path d="M398.0,401.9 L403.0,409.6 L405.7,419.7" fill="none" stroke="#2A879F" stroke-width="4.4" stroke-linecap="round"/>
<path d="M398.0,401.9 L403.0,409.6 L405.7,419.7" fill="none" stroke="#4FB3C6" stroke-width="2.7" stroke-linecap="round"/>
<path d="M398.0,401.9 L403.0,409.6 L405.7,419.7" fill="none" stroke="#97D4E0" stroke-width="0.9" transform="translate(-0.60,-0.20)"/>
<path d="M425.0,387.4 L429.8,394.7 L432.3,404.1" fill="none" stroke="#2A879F" stroke-width="4.2" stroke-linecap="round"/>
<path d="M425.0,387.4 L429.8,394.7 L432.3,404.1" fill="none" stroke="#4FB3C6" stroke-width="2.5" stroke-linecap="round"/>
<path d="M425.0,387.4 L429.8,394.7 L432.3,404.1" fill="none" stroke="#97D4E0" stroke-width="0.8" transform="translate(-0.57,-0.19)"/>
<path d="M450.0,374.0 L454.6,381.0 L457.0,389.7" fill="none" stroke="#2A879F" stroke-width="4.0" stroke-linecap="round"/>
<path d="M450.0,374.0 L454.6,381.0 L457.0,389.7" fill="none" stroke="#4FB3C6" stroke-width="2.4" stroke-linecap="round"/>
<path d="M450.0,374.0 L454.6,381.0 L457.0,389.7" fill="none" stroke="#97D4E0" stroke-width="0.8" transform="translate(-0.55,-0.18)"/>
<path d="M472.0,362.1 L476.4,368.9 L478.7,377.1" fill="none" stroke="#2A879F" stroke-width="3.8" stroke-linecap="round"/>
<path d="M472.0,362.1 L476.4,368.9 L478.7,377.1" fill="none" stroke="#4FB3C6" stroke-width="2.3" stroke-linecap="round"/>
<path d="M472.0,362.1 L476.4,368.9 L478.7,377.1" fill="none" stroke="#97D4E0" stroke-width="0.8" transform="translate(-0.53,-0.18)"/>
<path d="M492.0,351.4 L496.2,357.9 L498.5,365.5" fill="none" stroke="#2A879F" stroke-width="3.7" stroke-linecap="round"/>
<path d="M492.0,351.4 L496.2,357.9 L498.5,365.5" fill="none" stroke="#4FB3C6" stroke-width="2.2" stroke-linecap="round"/>
<path d="M492.0,351.4 L496.2,357.9 L498.5,365.5" fill="none" stroke="#97D4E0" stroke-width="0.7" transform="translate(-0.50,-0.17)"/>
<path d="M511.0,341.3 L515.0,347.5 L517.2,354.8" fill="none" stroke="#2A879F" stroke-width="3.6" stroke-linecap="round"/>
<path d="M511.0,341.3 L515.0,347.5 L517.2,354.8" fill="none" stroke="#4FB3C6" stroke-width="2.1" stroke-linecap="round"/>
<path d="M511.0,341.3 L515.0,347.5 L517.2,354.8" fill="none" stroke="#97D4E0" stroke-width="0.7" transform="translate(-0.49,-0.16)"/>
<path d="M528.0,332.3 L531.9,338.3 L534.0,345.5" fill="none" stroke="#2A879F" stroke-width="3.4" stroke-linecap="round"/>
<path d="M528.0,332.3 L531.9,338.3 L534.0,345.5" fill="none" stroke="#4FB3C6" stroke-width="2.0" stroke-linecap="round"/>
<path d="M528.0,332.3 L531.9,338.3 L534.0,345.5" fill="none" stroke="#97D4E0" stroke-width="0.7" transform="translate(-0.47,-0.16)"/>
<path d="M543.0,324.4 L546.8,330.2 L548.8,337.3" fill="none" stroke="#2A879F" stroke-width="3.3" stroke-linecap="round"/>
<path d="M543.0,324.4 L546.8,330.2 L548.8,337.3" fill="none" stroke="#4FB3C6" stroke-width="1.9" stroke-linecap="round"/>
<path d="M543.0,324.4 L546.8,330.2 L548.8,337.3" fill="none" stroke="#97D4E0" stroke-width="0.7" transform="translate(-0.45,-0.15)"/>
<path d="M557.0,317.0 L560.7,322.7 L562.6,329.7" fill="none" stroke="#2A879F" stroke-width="3.2" stroke-linecap="round"/>
<path d="M557.0,317.0 L560.7,322.7 L562.6,329.7" fill="none" stroke="#4FB3C6" stroke-width="1.8" stroke-linecap="round"/>
<path d="M557.0,317.0 L560.7,322.7 L562.6,329.7" fill="none" stroke="#97D4E0" stroke-width="0.6" transform="translate(-0.44,-0.15)"/>
<path d="M570.0,310.2 L573.6,315.6 L575.4,322.6" fill="none" stroke="#2A879F" stroke-width="3.1" stroke-linecap="round"/>
<path d="M570.0,310.2 L573.6,315.6 L575.4,322.6" fill="none" stroke="#4FB3C6" stroke-width="1.8" stroke-linecap="round"/>
<path d="M570.0,310.2 L573.6,315.6 L575.4,322.6" fill="none" stroke="#97D4E0" stroke-width="0.6" transform="translate(-0.43,-0.14)"/>
<path d="M217.37,496.82 L219.55,530.34 L214.81,530.65 L212.63,497.13Z" fill="#2A879F"/>
<circle cx="215.00" cy="496.97" r="2.38" fill="#2A879F"/>
<circle cx="217.18" cy="530.50" r="2.38" fill="#2A879F"/>
<path d="M217.37,496.82 L219.55,530.34 L215.66,530.59 L213.48,497.07Z" fill="#4FB3C6"/>
<path d="M216.40,496.88 L218.58,530.40 L217.39,530.48 L215.21,496.96Z" fill="#97D4E0"/>
<path d="M324.07,442.25 L325.95,468.24 L321.81,468.54 L319.93,442.55Z" fill="#2A879F"/>
<circle cx="322.00" cy="442.40" r="2.08" fill="#2A879F"/>
<circle cx="323.88" cy="468.39" r="2.08" fill="#2A879F"/>
<path d="M324.07,442.25 L325.95,468.24 L322.55,468.49 L320.67,442.50Z" fill="#4FB3C6"/>
<path d="M323.22,442.31 L325.10,468.30 L324.06,468.38 L322.19,442.39Z" fill="#97D4E0"/>
<path d="M413.82,392.95 L415.45,415.90 L411.80,416.16 L410.18,393.21Z" fill="#2A879F"/>
<circle cx="412.00" cy="393.08" r="1.83" fill="#2A879F"/>
<circle cx="413.63" cy="416.03" r="1.83" fill="#2A879F"/>
<path d="M413.82,392.95 L415.45,415.90 L412.46,416.11 L410.83,393.16Z" fill="#4FB3C6"/>
<path d="M413.07,393.00 L414.70,415.95 L413.79,416.02 L412.16,393.07Z" fill="#97D4E0"/>
<path d="M487.61,353.37 L489.03,372.86 L485.80,373.09 L484.39,353.61Z" fill="#2A879F"/>
<circle cx="486.00" cy="353.49" r="1.62" fill="#2A879F"/>
<circle cx="487.42" cy="372.97" r="1.62" fill="#2A879F"/>
<path d="M487.61,353.37 L489.03,372.86 L486.39,373.05 L484.97,353.57Z" fill="#4FB3C6"/>
<path d="M486.95,353.42 L488.37,372.91 L487.56,372.96 L486.15,353.48Z" fill="#97D4E0"/>
<path d="M127.92,534.79 L218.32,491.09 L221.68,497.91 L132.08,543.21Z" fill="#2A879F"/>
<circle cx="130.00" cy="539.00" r="4.70" fill="#2A879F"/>
<circle cx="220.00" cy="494.50" r="3.80" fill="#2A879F"/>
<path d="M218.30,491.10 L298.52,451.55 L301.48,457.45 L221.70,497.90Z" fill="#2A879F"/>
<circle cx="220.00" cy="494.50" r="3.80" fill="#2A879F"/>
<circle cx="300.00" cy="454.50" r="3.30" fill="#2A879F"/>
<path d="M298.41,451.61 L398.65,397.05 L401.35,401.95 L301.59,457.39Z" fill="#2A879F"/>
<circle cx="300.00" cy="454.50" r="3.30" fill="#2A879F"/>
<circle cx="400.00" cy="399.50" r="2.80" fill="#2A879F"/>
<path d="M398.68,397.03 L498.87,343.88 L501.13,348.12 L401.32,401.97Z" fill="#2A879F"/>
<circle cx="400.00" cy="399.50" r="2.80" fill="#2A879F"/>
<circle cx="500.00" cy="346.00" r="2.40" fill="#2A879F"/>
<path d="M498.88,343.88 L598.07,292.23 L599.93,295.77 L501.12,348.12Z" fill="#2A879F"/>
<circle cx="500.00" cy="346.00" r="2.40" fill="#2A879F"/>
<circle cx="599.00" cy="294.00" r="2.00" fill="#2A879F"/>
<path d="M127.92,534.79 L218.32,491.09 L221.08,496.68 L131.33,541.70Z" fill="#4FB3C6"/>
<path d="M218.30,491.10 L298.52,451.55 L300.94,456.39 L221.09,496.68Z" fill="#4FB3C6"/>
<circle cx="220.00" cy="494.50" r="3.04" fill="#4FB3C6"/>
<path d="M298.41,451.61 L398.65,397.05 L400.86,401.07 L301.02,456.35Z" fill="#4FB3C6"/>
<circle cx="300.00" cy="454.50" r="2.64" fill="#4FB3C6"/>
<path d="M398.68,397.03 L498.87,343.88 L500.72,347.35 L400.85,401.08Z" fill="#4FB3C6"/>
<circle cx="400.00" cy="399.50" r="2.24" fill="#4FB3C6"/>
<path d="M498.88,343.88 L598.07,292.23 L599.60,295.13 L500.71,347.36Z" fill="#4FB3C6"/>
<circle cx="500.00" cy="346.00" r="1.92" fill="#4FB3C6"/>
<path d="M128.58,536.14 L218.85,492.18 L220.00,494.50 L130.00,539.00Z" fill="#97D4E0"/>
<path d="M218.84,492.19 L299.00,452.49 L300.00,454.50 L220.00,494.50Z" fill="#97D4E0"/>
<path d="M298.92,452.53 L399.08,397.83 L400.00,399.50 L300.00,454.50Z" fill="#97D4E0"/>
<path d="M399.10,397.82 L499.23,344.56 L500.00,346.00 L400.00,399.50Z" fill="#97D4E0"/>
<path d="M499.24,344.56 L598.37,292.80 L599.00,294.00 L500.00,346.00Z" fill="#97D4E0"/>
<path d="M599,294 C603,292.5 606,295 605.5,300 L604.5,308" fill="none" stroke="#2A879F" stroke-width="3.0" stroke-linecap="round"/>
<path d="M599,294 C603,292.5 606,295 605.5,300 L604.5,308" fill="none" stroke="#4FB3C6" stroke-width="2.4" stroke-linecap="round" transform="translate(-0.11,-0.25)"/>
<path d="M154.36,571.86 L175.36,576.26 L174.64,579.74 L153.64,575.34Z" fill="#2A879F"/>
<circle cx="154.00" cy="573.60" r="1.78" fill="#2A879F"/>
<circle cx="175.00" cy="578.00" r="1.78" fill="#2A879F"/>
<path d="M154.36,571.86 L175.36,576.26 L174.77,579.11 L153.77,574.71Z" fill="#4FB3C6"/>
<path d="M154.21,572.57 L175.21,576.97 L175.03,577.84 L154.03,573.44Z" fill="#97D4E0"/>
<path d="M175.87,574.46 L209.67,540.86 L213.93,545.14 L180.13,578.74Z" fill="#2A879F"/>
<circle cx="178.00" cy="576.60" r="3.02" fill="#2A879F"/>
<circle cx="211.80" cy="543.00" r="3.02" fill="#2A879F"/>
<path d="M175.87,574.46 L209.67,540.86 L213.16,544.37 L179.36,577.97Z" fill="#4FB3C6"/>
<path d="M176.74,575.34 L210.54,541.74 L211.61,542.81 L177.81,576.41Z" fill="#97D4E0"/>
<path d="M213.35,540.81 L227.55,550.81 L224.45,555.19 L210.25,545.19Z" fill="#2A879F"/>
<circle cx="211.80" cy="543.00" r="2.68" fill="#2A879F"/>
<circle cx="226.00" cy="553.00" r="2.68" fill="#2A879F"/>
<path d="M213.35,540.81 L227.55,550.81 L225.01,554.40 L210.81,544.40Z" fill="#4FB3C6"/>
<path d="M212.71,541.71 L226.91,551.71 L226.14,552.80 L211.94,542.80Z" fill="#97D4E0"/>
<path d="M239.47,546.77 L256.97,510.77 L262.03,513.23 L244.53,549.23Z" fill="#2A879F"/>
<circle cx="242.00" cy="548.00" r="2.81" fill="#2A879F"/>
<circle cx="259.50" cy="512.00" r="2.81" fill="#2A879F"/>
<path d="M239.47,546.77 L256.97,510.77 L261.12,512.79 L243.62,548.79Z" fill="#4FB3C6"/>
<path d="M240.51,547.28 L258.01,511.28 L259.27,511.89 L241.77,547.89Z" fill="#97D4E0"/>
<path d="M266.32,503.58 L306.82,510.58 L305.98,515.42 L265.48,508.42Z" fill="#2A879F"/>
<circle cx="265.90" cy="506.00" r="2.45" fill="#2A879F"/>
<circle cx="306.40" cy="513.00" r="2.45" fill="#2A879F"/>
<path d="M266.32,503.58 L306.82,510.58 L306.13,514.55 L265.63,507.55Z" fill="#4FB3C6"/>
<path d="M266.15,504.57 L306.65,511.57 L306.44,512.78 L265.94,505.78Z" fill="#97D4E0"/>
<path d="M308.39,481.39 L326.99,504.39 L323.01,507.61 L304.41,484.61Z" fill="#2A879F"/>
<circle cx="306.40" cy="483.00" r="2.56" fill="#2A879F"/>
<circle cx="325.00" cy="506.00" r="2.56" fill="#2A879F"/>
<path d="M308.39,481.39 L326.99,504.39 L323.72,507.03 L305.12,484.03Z" fill="#4FB3C6"/>
<path d="M307.58,482.05 L326.18,505.05 L325.18,505.85 L306.58,482.85Z" fill="#97D4E0"/>
<path d="M352.14,456.06 L334.74,498.06 L339.26,499.94 L356.66,457.94Z" fill="#2A879F"/>
<circle cx="354.40" cy="457.00" r="2.45" fill="#2A879F"/>
<circle cx="337.00" cy="499.00" r="2.45" fill="#2A879F"/>
<path d="M352.14,456.06 L334.74,498.06 L338.45,499.60 L355.85,457.60Z" fill="#4FB3C6"/>
<path d="M353.07,456.45 L335.67,498.45 L336.80,498.92 L354.20,456.92Z" fill="#97D4E0"/>
<path d="M382.46,438.87 L399.76,465.87 L396.24,468.13 L378.94,441.13Z" fill="#2A879F"/>
<circle cx="380.70" cy="440.00" r="2.09" fill="#2A879F"/>
<circle cx="398.00" cy="467.00" r="2.09" fill="#2A879F"/>
<path d="M382.46,438.87 L399.76,465.87 L396.87,467.72 L379.57,440.72Z" fill="#4FB3C6"/>
<path d="M381.74,439.33 L399.04,466.33 L398.16,466.90 L380.86,439.90Z" fill="#97D4E0"/>
<path d="M421.94,415.38 L414.44,461.18 L418.36,461.82 L425.86,416.02Z" fill="#2A879F"/>
<circle cx="423.90" cy="415.70" r="1.99" fill="#2A879F"/>
<circle cx="416.40" cy="461.50" r="1.99" fill="#2A879F"/>
<path d="M421.94,415.38 L414.44,461.18 L417.65,461.71 L425.15,415.91Z" fill="#4FB3C6"/>
<path d="M422.74,415.51 L415.24,461.31 L416.22,461.47 L423.72,415.67Z" fill="#97D4E0"/>
<path d="M474.30,412.02 L552.30,356.52 L553.70,358.48 L475.70,413.98Z" fill="#2A879F"/>
<circle cx="475.00" cy="413.00" r="1.20" fill="#2A879F"/>
<circle cx="553.00" cy="357.50" r="1.20" fill="#2A879F"/>
<path d="M474.30,412.02 L552.30,356.52 L553.45,358.13 L475.45,413.63Z" fill="#4FB3C6"/>
<path d="M469.38,419.59 L555.38,360.59 L556.62,362.41 L470.62,421.41Z" fill="#2A879F"/>
<circle cx="470.00" cy="420.50" r="1.10" fill="#2A879F"/>
<circle cx="556.00" cy="361.50" r="1.10" fill="#2A879F"/>
<path d="M469.38,419.59 L555.38,360.59 L556.40,362.08 L470.40,421.08Z" fill="#4FB3C6"/>
<path d="M477.36,403.10 L550.36,351.10 L551.64,352.90 L478.64,404.90Z" fill="#2A879F"/>
<circle cx="478.00" cy="404.00" r="1.10" fill="#2A879F"/>
<circle cx="551.00" cy="352.00" r="1.10" fill="#2A879F"/>
<path d="M477.36,403.10 L550.36,351.10 L551.41,352.57 L478.41,404.57Z" fill="#4FB3C6"/>
<path d="M467.36,427.11 L499.36,404.11 L500.64,405.89 L468.64,428.89Z" fill="#2A879F"/>
<circle cx="468.00" cy="428.00" r="1.10" fill="#2A879F"/>
<circle cx="500.00" cy="405.00" r="1.10" fill="#2A879F"/>
<path d="M467.36,427.11 L499.36,404.11 L500.41,405.57 L468.41,428.57Z" fill="#4FB3C6"/>
<path d="M474.0,409.0 L552.0,354.5" fill="none" stroke="#155A70" stroke-width="1.0" stroke-linecap="round"/>
<path d="M473.0,417.0 L554.0,359.5" fill="none" stroke="#155A70" stroke-width="1.0" stroke-linecap="round"/>
<path d="M509.53,348.20 L565.03,349.70 L564.97,351.90 L509.47,350.40Z" fill="#2A879F"/>
<circle cx="509.50" cy="349.30" r="1.10" fill="#2A879F"/>
<circle cx="565.00" cy="350.80" r="1.10" fill="#2A879F"/>
<path d="M509.53,348.20 L565.03,349.70 L564.98,351.50 L509.48,350.00Z" fill="#4FB3C6"/>
<path d="M529.0,358.3 L556.0,359.0" fill="none" stroke="#2A879F" stroke-width="2.4" stroke-linecap="round"/>
<path d="M470.0,402.0 L500.0,403.0" fill="none" stroke="#2A879F" stroke-width="2.0" stroke-linecap="round"/>
<path d="M488.30,367.85 L491.30,424.85 L485.70,425.15 L482.70,368.15Z" fill="#2A879F"/>
<circle cx="485.50" cy="368.00" r="2.80" fill="#2A879F"/>
<circle cx="488.50" cy="425.00" r="2.80" fill="#2A879F"/>
<path d="M488.30,367.85 L491.30,424.85 L486.71,425.09 L483.71,368.09Z" fill="#4FB3C6"/>
<path d="M487.15,367.91 L490.15,424.91 L488.75,424.99 L485.75,367.99Z" fill="#97D4E0"/>
<path d="M488.2,372.0 L490.8,424.0" fill="none" stroke="#155A70" stroke-width="1.4" stroke-linecap="butt"/>
<path d="M518.20,355.93 L516.70,394.93 L520.30,395.07 L521.80,356.07Z" fill="#2A879F"/>
<circle cx="520.00" cy="356.00" r="1.80" fill="#2A879F"/>
<circle cx="518.50" cy="395.00" r="1.80" fill="#2A879F"/>
<path d="M518.20,355.93 L516.70,394.93 L519.65,395.04 L521.15,356.04Z" fill="#4FB3C6"/>
<path d="M518.94,355.96 L517.44,394.96 L518.34,394.99 L519.84,355.99Z" fill="#97D4E0"/>
<path d="M549.31,339.37 L547.11,364.87 L550.09,365.13 L552.29,339.63Z" fill="#2A879F"/>
<circle cx="550.80" cy="339.50" r="1.50" fill="#2A879F"/>
<circle cx="548.60" cy="365.00" r="1.50" fill="#2A879F"/>
<path d="M549.31,339.37 L547.11,364.87 L549.56,365.08 L551.76,339.58Z" fill="#4FB3C6"/>
<path d="M570.60,326.00 L570.60,342.50 L573.00,342.50 L573.00,326.00Z" fill="#2A879F"/>
<circle cx="571.80" cy="326.00" r="1.20" fill="#2A879F"/>
<circle cx="571.80" cy="342.50" r="1.20" fill="#2A879F"/>
<path d="M570.60,326.00 L570.60,342.50 L572.57,342.50 L572.57,326.00Z" fill="#4FB3C6"/>
<path d="M493.8,372.5 L506.5,407.0" fill="none" stroke="#124F63" stroke-width="2.2" stroke-linecap="round"/>
<path d="M532.0,350.0 L538.0,376.0" fill="none" stroke="#124F63" stroke-width="2.0" stroke-linecap="round"/>
<path d="M559.0,333.5 L565.8,347.8" fill="none" stroke="#124F63" stroke-width="1.8" stroke-linecap="round"/>
<path d="M583.0,317.0 L587.0,327.0" fill="none" stroke="#124F63" stroke-width="1.5" stroke-linecap="round"/>
<path d="M97.28,587.93 L157.28,555.73 L162.72,565.87 L102.72,598.07Z" fill="#2A879F"/>
<circle cx="100.00" cy="593.00" r="5.75" fill="#2A879F"/>
<circle cx="160.00" cy="560.80" r="5.75" fill="#2A879F"/>
<path d="M157.31,555.72 L217.38,524.05 L222.62,533.95 L162.69,565.88Z" fill="#2A879F"/>
<circle cx="160.00" cy="560.80" r="5.75" fill="#2A879F"/>
<circle cx="220.00" cy="529.00" r="5.60" fill="#2A879F"/>
<path d="M217.18,524.16 L508.14,356.60 L511.86,363.00 L222.82,533.84Z" fill="#2A879F"/>
<circle cx="220.00" cy="529.00" r="5.60" fill="#2A879F"/>
<circle cx="510.00" cy="359.80" r="3.70" fill="#2A879F"/>
<path d="M508.21,356.56 L602.89,305.79 L605.11,309.81 L511.79,363.04Z" fill="#2A879F"/>
<circle cx="510.00" cy="359.80" r="3.70" fill="#2A879F"/>
<circle cx="604.00" cy="307.80" r="2.30" fill="#2A879F"/>
<path d="M97.28,587.93 L157.28,555.73 L161.74,564.04 L101.74,596.24Z" fill="#4FB3C6"/>
<path d="M157.31,555.72 L217.38,524.05 L221.68,532.17 L161.72,564.05Z" fill="#4FB3C6"/>
<circle cx="160.00" cy="560.80" r="4.60" fill="#4FB3C6"/>
<path d="M217.18,524.16 L508.14,356.60 L511.19,361.85 L221.81,532.10Z" fill="#4FB3C6"/>
<circle cx="220.00" cy="529.00" r="4.48" fill="#4FB3C6"/>
<path d="M508.21,356.56 L602.89,305.79 L604.71,309.09 L511.15,361.87Z" fill="#4FB3C6"/>
<circle cx="510.00" cy="359.80" r="2.96" fill="#4FB3C6"/>
<path d="M97.61,588.54 L157.61,556.34 L158.48,557.96 L98.48,590.16Z" fill="#97D4E0"/>
<path d="M157.63,556.33 L217.69,524.65 L218.53,526.23 L158.49,557.95Z" fill="#97D4E0"/>
<path d="M217.52,524.74 L508.36,356.99 L508.96,358.01 L218.42,526.29Z" fill="#97D4E0"/>
<path d="M508.42,356.95 L603.02,306.03 L603.38,306.67 L509.00,357.99Z" fill="#97D4E0"/>
<path d="M122.05,602.61 L158.13,586.80 L161.87,595.20 L125.95,611.39Z" fill="#2A879F"/>
<circle cx="124.00" cy="607.00" r="4.80" fill="#2A879F"/>
<circle cx="160.00" cy="591.00" r="4.60" fill="#2A879F"/>
<path d="M157.92,586.90 L238.15,546.84 L241.85,554.16 L162.08,595.10Z" fill="#2A879F"/>
<circle cx="160.00" cy="591.00" r="4.60" fill="#2A879F"/>
<circle cx="240.00" cy="550.50" r="4.10" fill="#2A879F"/>
<path d="M238.18,546.83 L398.62,468.22 L401.38,473.78 L241.82,554.17Z" fill="#2A879F"/>
<circle cx="240.00" cy="550.50" r="4.10" fill="#2A879F"/>
<circle cx="400.00" cy="471.00" r="3.10" fill="#2A879F"/>
<path d="M398.77,468.16 L441.52,450.02 L443.68,454.98 L401.23,473.84Z" fill="#2A879F"/>
<circle cx="400.00" cy="471.00" r="3.10" fill="#2A879F"/>
<circle cx="442.60" cy="452.50" r="2.70" fill="#2A879F"/>
<path d="M122.05,602.61 L158.13,586.80 L161.20,593.69 L125.25,609.81Z" fill="#4FB3C6"/>
<path d="M157.92,586.90 L238.15,546.84 L241.19,552.84 L161.33,593.63Z" fill="#4FB3C6"/>
<circle cx="160.00" cy="591.00" r="3.68" fill="#4FB3C6"/>
<path d="M238.18,546.83 L398.62,468.22 L400.88,472.78 L241.17,552.85Z" fill="#4FB3C6"/>
<circle cx="240.00" cy="550.50" r="3.28" fill="#4FB3C6"/>
<path d="M398.77,468.16 L441.52,450.02 L443.29,454.08 L400.79,472.82Z" fill="#4FB3C6"/>
<circle cx="400.00" cy="471.00" r="2.48" fill="#4FB3C6"/>
<path d="M122.75,604.19 L158.80,588.31 L159.93,590.83 L123.92,606.82Z" fill="#97D4E0"/>
<path d="M158.67,588.37 L238.81,548.16 L239.93,550.35 L159.92,590.84Z" fill="#97D4E0"/>
<path d="M238.83,548.15 L399.12,469.22 L399.94,470.89 L239.93,550.35Z" fill="#97D4E0"/>
<path d="M399.21,469.18 L441.91,450.92 L442.56,452.40 L399.95,470.89Z" fill="#97D4E0"/>
<path d="M440.92,450.39 L557.57,358.20 L560.43,361.80 L444.28,454.61Z" fill="#2A879F"/>
<circle cx="442.60" cy="452.50" r="2.70" fill="#2A879F"/>
<circle cx="559.00" cy="360.00" r="2.30" fill="#2A879F"/>
<path d="M557.26,358.49 L602.24,307.32 L604.96,309.68 L560.74,361.51Z" fill="#2A879F"/>
<circle cx="559.00" cy="360.00" r="2.30" fill="#2A879F"/>
<circle cx="603.60" cy="308.50" r="1.80" fill="#2A879F"/>
<path d="M440.92,450.39 L557.57,358.20 L559.92,361.15 L443.68,453.85Z" fill="#4FB3C6"/>
<path d="M557.26,358.49 L602.24,307.32 L604.47,309.25 L560.11,360.96Z" fill="#4FB3C6"/>
<circle cx="559.00" cy="360.00" r="1.84" fill="#4FB3C6"/>
<path d="M441.52,451.15 L558.08,358.85 L558.94,359.93 L442.53,452.42Z" fill="#97D4E0"/>
<path d="M557.89,359.04 L602.73,307.75 L603.55,308.45 L558.93,359.94Z" fill="#97D4E0"/>
<path d="M468.87,435.60 L545.27,438.10 L545.13,442.70 L468.73,440.80Z" fill="#2A879F"/>
<circle cx="468.80" cy="438.20" r="2.60" fill="#2A879F"/>
<circle cx="545.20" cy="440.40" r="2.30" fill="#2A879F"/>
<path d="M468.87,435.60 L545.27,438.10 L545.16,441.87 L468.75,439.86Z" fill="#4FB3C6"/>
<path d="M468.85,436.54 L545.24,438.93 L545.20,440.31 L468.80,438.10Z" fill="#97D4E0"/>
<path d="M462.93,444.20 L545.13,440.90 L545.27,444.30 L463.07,447.80Z" fill="#2A879F"/>
<circle cx="463.00" cy="446.00" r="1.80" fill="#2A879F"/>
<circle cx="545.20" cy="442.60" r="1.70" fill="#2A879F"/>
<path d="M462.93,444.20 L545.13,440.90 L545.24,443.69 L463.05,447.15Z" fill="#4FB3C6"/>
<path d="M462.95,444.85 L545.16,441.51 L545.20,442.53 L463.00,445.93Z" fill="#97D4E0"/>
<path d="M447.15,452.31 L544.98,442.81 L545.42,447.19 L447.65,457.29Z" fill="#2A879F"/>
<circle cx="447.40" cy="454.80" r="2.50" fill="#2A879F"/>
<circle cx="545.20" cy="445.00" r="2.20" fill="#2A879F"/>
<path d="M447.15,452.31 L544.98,442.81 L545.34,446.40 L447.56,456.39Z" fill="#4FB3C6"/>
<path d="M447.24,453.21 L545.06,443.60 L545.19,444.91 L447.39,454.70Z" fill="#97D4E0"/>
<path d="M555.21,361.76 L548.11,427.75 L552.89,428.25 L559.79,362.24Z" fill="#2A879F"/>
<circle cx="557.50" cy="362.00" r="2.30" fill="#2A879F"/>
<circle cx="550.50" cy="428.00" r="2.40" fill="#2A879F"/>
<path d="M555.21,361.76 L548.11,427.75 L552.03,428.16 L558.96,362.16Z" fill="#4FB3C6"/>
<path d="M556.04,361.84 L548.97,427.84 L550.40,427.99 L557.41,361.99Z" fill="#97D4E0"/>
<path d="M528.83,391.39 L548.93,425.39 L546.87,426.61 L526.77,392.61Z" fill="#2A879F"/>
<circle cx="527.80" cy="392.00" r="1.20" fill="#2A879F"/>
<circle cx="547.90" cy="426.00" r="1.20" fill="#2A879F"/>
<path d="M528.83,391.39 L548.93,425.39 L547.24,426.39 L527.14,392.39Z" fill="#4FB3C6"/>
<ellipse cx="553.9" cy="448.3" rx="10" ry="20.8" fill="#2C8CA4" stroke="#1D6F87" stroke-width="1.2"/>
<ellipse cx="553.9" cy="448.3" rx="8.4" ry="18.6" fill="none" stroke="#1D6F87" stroke-width="0.8" stroke-dasharray="1.2 1.6" opacity="0.8"/>
<ellipse cx="555.6" cy="448.8" rx="5.5" ry="14.6" fill="#5DB9C9" stroke="#2A879F" stroke-width="0.9"/>
<ellipse cx="555.4" cy="448.8" rx="2.6" ry="6.4" fill="#2A879F"/>
<ellipse cx="555.2" cy="448.6" rx="1.2" ry="2.8" fill="#4FB3C6"/>
<ellipse cx="455.6" cy="429" rx="14.6" ry="22.0" fill="#46A892"/>
<ellipse cx="454.6" cy="428.7" rx="14.0" ry="21.6" fill="#62C2AE"/>
<path d="M446,416 L463,409 M447,421 L464,413" stroke="#8AD6C6" stroke-width="1.6" fill="none" opacity="0.8"/>
<path d="M56,540 L70,531 L114,544 L112,570 L98,576 L54,560 Z" fill="#1D6F87"/>
<path d="M56.8,542.6 L112.8,549.1" fill="none" stroke="#4FB3C6" stroke-width="2.3" stroke-linecap="butt"/>
<path d="M56.8,542.1 L112.8,548.6" fill="none" stroke="#97D4E0" stroke-width="0.7" stroke-linecap="butt"/>
<path d="M56.5,545.8 L112.5,553.2" fill="none" stroke="#4FB3C6" stroke-width="2.3" stroke-linecap="butt"/>
<path d="M56.5,545.2 L112.5,552.8" fill="none" stroke="#97D4E0" stroke-width="0.7" stroke-linecap="butt"/>
<path d="M56.2,548.9 L112.2,557.4" fill="none" stroke="#4FB3C6" stroke-width="2.3" stroke-linecap="butt"/>
<path d="M56.2,548.4 L112.2,556.9" fill="none" stroke="#97D4E0" stroke-width="0.7" stroke-linecap="butt"/>
<path d="M55.8,552.1 L111.8,561.6" fill="none" stroke="#4FB3C6" stroke-width="2.3" stroke-linecap="butt"/>
<path d="M55.8,551.6 L111.8,561.1" fill="none" stroke="#97D4E0" stroke-width="0.7" stroke-linecap="butt"/>
<path d="M55.5,555.2 L111.5,565.8" fill="none" stroke="#4FB3C6" stroke-width="2.3" stroke-linecap="butt"/>
<path d="M55.5,554.8 L111.5,565.2" fill="none" stroke="#97D4E0" stroke-width="0.7" stroke-linecap="butt"/>
<path d="M55.2,558.4 L111.2,569.9" fill="none" stroke="#4FB3C6" stroke-width="2.3" stroke-linecap="butt"/>
<path d="M55.2,557.9 L111.2,569.4" fill="none" stroke="#97D4E0" stroke-width="0.7" stroke-linecap="butt"/>
<path d="M58.0,538.5 L70.0,531.5 L114.0,544.5" fill="none" stroke="#2F8EA6" stroke-width="2.2" stroke-linecap="round"/>
<circle cx="131" cy="564.5" r="10.6" fill="#1D6F87" stroke="#155A70" stroke-width="1.6" stroke-dasharray="1.7 1.5"/>
<circle cx="131.4" cy="565" r="7" fill="#4FB3C6" stroke="#2A879F" stroke-width="1"/>
<circle cx="131.8" cy="565.4" r="2.8" fill="#97D4E0" stroke="#2A879F" stroke-width="0.7"/>
<path d="M140.36,565.64 L159.36,556.64 L160.64,559.36 L141.64,568.36Z" fill="#2A879F"/>
<circle cx="141.00" cy="567.00" r="1.50" fill="#2A879F"/>
<circle cx="160.00" cy="558.00" r="1.50" fill="#2A879F"/>
<path d="M140.36,565.64 L159.36,556.64 L160.41,558.87 L141.41,567.87Z" fill="#4FB3C6"/>
<path d="M72,520.5 C44,533 27.5,545 29.5,562 C31.5,580 40,590.5 60,584" fill="none" stroke="#2A879F" stroke-width="8.4" stroke-linecap="round"/>
<path d="M72,520.5 C44,533 27.5,545 29.5,562 C31.5,580 40,590.5 60,584" fill="none" stroke="#4FB3C6" stroke-width="6.7" stroke-linecap="round" transform="translate(-0.32,-0.69)"/>
<path d="M72,520.5 C44,533 27.5,545 29.5,562 C31.5,580 40,590.5 60,584" fill="none" stroke="#97D4E0" stroke-width="2.5" stroke-linecap="round" transform="translate(-0.60,-1.30)"/>
<path d="M134,537 C106,550.5 90.5,564 92.5,582 C94.5,600 104,612 128,605" fill="none" stroke="#2A879F" stroke-width="9.6" stroke-linecap="round"/>
<path d="M134,537 C106,550.5 90.5,564 92.5,582 C94.5,600 104,612 128,605" fill="none" stroke="#4FB3C6" stroke-width="7.7" stroke-linecap="round" transform="translate(-0.36,-0.79)"/>
<path d="M134,537 C106,550.5 90.5,564 92.5,582 C94.5,600 104,612 128,605" fill="none" stroke="#97D4E0" stroke-width="2.9" stroke-linecap="round" transform="translate(-0.69,-1.49)"/>
<path d="M50.4,589.6 L76,585.3 L76.6,589.0 L51.0,593.3000000000001 Z" fill="#2A879F"/>
<path d="M50.4,589.6 L76,585.3" stroke="#4FB3C6" stroke-width="1.6" fill="none"/>
<path d="M56.3,593.3 L66.9,591.8 L66.0,604.3 L56.0,605.3 Z" fill="#2A879F"/>
<ellipse cx="61.6" cy="604.3" rx="5.9" ry="9.6" fill="#2A879F"/>
<ellipse cx="62.2" cy="604.3" rx="4.6000000000000005" ry="8.299999999999999" fill="#4FB3C6"/>
<ellipse cx="62.6" cy="603.8" rx="3.2450000000000006" ry="5.952" fill="#74C6D4"/>
<ellipse cx="62.4" cy="604.3" rx="0.9440000000000001" ry="1.536" fill="#2A879F"/>
<path d="M116.8,613.8 L142.5,608.8 L143.1,613.4 L117.39999999999999,618.4 Z" fill="#2A879F"/>
<path d="M116.8,613.8 L142.5,608.8" stroke="#4FB3C6" stroke-width="1.6" fill="none"/>
<path d="M117.3,618.4 L133.5,616.9 L132.2,627.9 L116.9,628.9 Z" fill="#2A879F"/>
<ellipse cx="125.4" cy="627.9" rx="9.0" ry="11.8" fill="#2A879F"/>
<ellipse cx="126.0" cy="627.9" rx="7.7" ry="10.5" fill="#4FB3C6"/>
<ellipse cx="126.4" cy="627.4" rx="4.95" ry="7.316000000000001" fill="#74C6D4"/>
<ellipse cx="126.2" cy="627.9" rx="1.44" ry="1.8880000000000001" fill="#2A879F"/>
</g>
</svg>
</body>
</html>
